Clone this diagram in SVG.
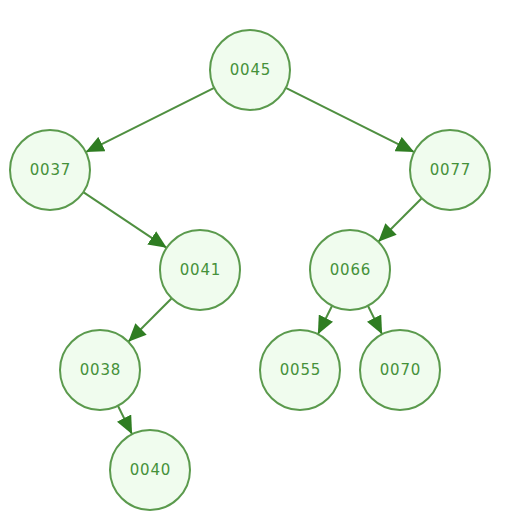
<svg xmlns="http://www.w3.org/2000/svg" width="515" height="528" viewBox="0 0 515 528">
<style>
.node circle{fill:#f0fcee;stroke:#5b9a4d;stroke-width:2}
.node text{font-family:"DejaVu Sans",Verdana,sans-serif;font-size:15px;letter-spacing:0.8px;fill:#45913a;text-anchor:middle;dominant-baseline:central}
.edges line{stroke:#4f8f40;stroke-width:2;marker-end:url(#arr)}
</style>
<defs>
<marker id="arr" markerUnits="userSpaceOnUse" markerWidth="20" markerHeight="16" refX="18" refY="8" orient="auto">
<path d="M0,0 L18,8 L0,16 Z" fill="#2f7d22"/>
</marker>
</defs>
<rect width="515" height="528" fill="#ffffff"/>
<g class="edges">
<line x1="214.2" y1="87.9" x2="85.8" y2="152.1"/>
<line x1="285.8" y1="87.9" x2="414.2" y2="152.1"/>
<line x1="83.3" y1="192.2" x2="166.7" y2="247.8"/>
<line x1="421.7" y1="198.3" x2="378.3" y2="241.7"/>
<line x1="171.7" y1="298.3" x2="128.3" y2="341.7"/>
<line x1="332.1" y1="305.8" x2="317.9" y2="334.2"/>
<line x1="367.9" y1="305.8" x2="382.1" y2="334.2"/>
<line x1="117.9" y1="405.8" x2="132.1" y2="434.2"/>
</g>
<g id="n0045" class="node"><circle cx="250" cy="70" r="40"/><text x="250.4" y="70">0045</text></g>
<g id="n0037" class="node"><circle cx="50" cy="170" r="40"/><text x="50.4" y="170">0037</text></g>
<g id="n0077" class="node"><circle cx="450" cy="170" r="40"/><text x="450.4" y="170">0077</text></g>
<g id="n0041" class="node"><circle cx="200" cy="270" r="40"/><text x="200.4" y="270">0041</text></g>
<g id="n0066" class="node"><circle cx="350" cy="270" r="40"/><text x="350.4" y="270">0066</text></g>
<g id="n0038" class="node"><circle cx="100" cy="370" r="40"/><text x="100.4" y="370">0038</text></g>
<g id="n0055" class="node"><circle cx="300" cy="370" r="40"/><text x="300.4" y="370">0055</text></g>
<g id="n0070" class="node"><circle cx="400" cy="370" r="40"/><text x="400.4" y="370">0070</text></g>
<g id="n0040" class="node"><circle cx="150" cy="470" r="40"/><text x="150.4" y="470">0040</text></g>
</svg>
